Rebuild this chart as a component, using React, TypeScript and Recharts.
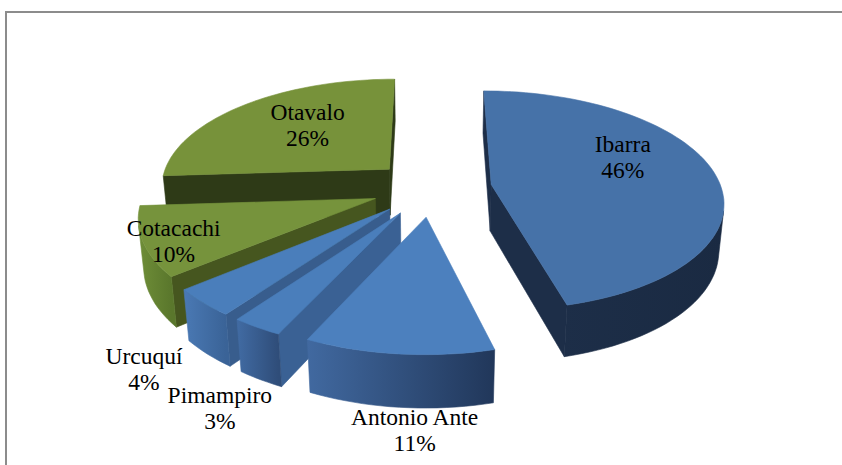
import React from 'react';
import { PieChart, Pie } from 'recharts';

// cantones y porcentaje de cada uno
const cantones = ['Ibarra', 'Antonio Ante', 'Pimampiro', 'Urcuquí', 'Cotacachi', 'Otavalo'];
const porcentajes = [46, 11, 3, 4, 10, 26];

// colores: tapa, cara de corte, lateral (de izquierda a derecha)
const topColors = ['#4672A8', '#4C80BE', '#4A7EBB', '#4A7EBB', '#76933C', '#77923A'];
const cutColors = ['#1D2E48', '#30507C', '#3A6194', '#385D8D', '#46561F', '#2E3A17'];
const sideFrom = ['#1E304B', '#4169A0', '#416BA3', '#4A79B4', '#6F8E38', '#3A4A1D'];
const sideTo = ['#1A2A42', '#21375A', '#2F4D79', '#3A6397', '#5A772C', '#2E3A17'];

// etiquetas: fraccion del radio sobre el angulo medio + ajuste en px
const labelFrac = [0.57, 1.0, 1.2, 1.2, 0.87, 0.54];
const labelShift = [
  [4, -12],
  [16, 84],
  [-3, 62],
  [-16, 53],
  [-1, 13],
  [0, 0],
];

const data = cantones.map((name, i) => ({ name, value: porcentajes[i] }));
// mismo pastel en sentido contrario: dibuja de atras hacia adelante
const backToFront = [...data].reverse();

const CX = 427;
const CY = 183;
const RADIUS = 230;
const TILT = 0.47;
const COS_T = Math.sqrt(1 - TILT * TILT);
const DIST = 1400;
const DEPTH = 54;
const EXPLODE = 60;
const CAM_Z = -DIST * COS_T;

const FONT = "'Liberation Serif', 'Times New Roman', Times, serif";

const toRad = (d: number) => (d * Math.PI) / 180;

function project(cx: number, cy: number, x: number, z: number, y: number) {
  const v = z * TILT + y * COS_T;
  const w = z * COS_T - y * TILT;
  const s = DIST / (DIST + w);
  return [cx + x * s, cy - v * s];
}

const toPoints = (list: number[][]) => list.map((p) => `${p[0].toFixed(1)},${p[1].toFixed(1)}`).join(' ');

function Slice3D(props: any) {
  const { cx, cy, outerRadius, startAngle, endAngle, midAngle, name } = props;
  const i = cantones.indexOf(name);
  const lo = Math.min(startAngle, endAngle);
  const hi = Math.max(startAngle, endAngle);
  const m = toRad(midAngle);
  const ox = EXPLODE * Math.cos(m);
  const oz = EXPLODE * Math.sin(m);

  const rim = (deg: number, y: number) => {
    const a = toRad(deg);
    return project(cx, cy, ox + outerRadius * Math.cos(a), oz + outerRadius * Math.sin(a), y);
  };
  const apex = (y: number) => project(cx, cy, ox, oz, y);

  const steps = Math.max(2, Math.ceil((hi - lo) / 2));
  const angles = Array.from({ length: steps + 1 }, (_, k) => lo + ((hi - lo) * k) / steps);

  const facing = (deg: number) => {
    const a = toRad(deg);
    const px = ox + outerRadius * Math.cos(a);
    const pz = oz + outerRadius * Math.sin(a);
    return Math.cos(a) * (0 - px) + Math.sin(a) * (CAM_Z - pz) > 0;
  };

  // tramos visibles del lateral curvo
  const runs: number[][] = [];
  let cur: number[] | null = null;
  for (let k = 0; k < steps; k++) {
    if (facing((angles[k] + angles[k + 1]) / 2)) {
      if (!cur) {
        cur = [angles[k]];
        runs.push(cur);
      }
      cur.push(angles[k + 1]);
    } else {
      cur = null;
    }
  }

  const cutVisible = (deg: number, sign: number) => {
    const a = toRad(deg);
    const nx = -sign * Math.sin(a);
    const nz = sign * Math.cos(a);
    return nx * (0 - ox) + nz * (CAM_Z - oz) > 0;
  };

  const cuts = [
    { deg: lo, sign: -1 },
    { deg: hi, sign: 1 },
  ].filter((c) => cutVisible(c.deg, c.sign));

  const topPts = [apex(0), ...angles.map((a) => rim(a, 0))];
  const xs = angles.map((a) => rim(a, 0)[0]);
  const gradId = `lado-${i}`;

  return (
    <g>
      <defs>
        <linearGradient id={gradId} gradientUnits="userSpaceOnUse" x1={Math.min(...xs)} y1={0} x2={Math.max(...xs)} y2={0}>
          <stop offset="0%" stopColor={sideFrom[i]} />
          <stop offset="100%" stopColor={sideTo[i]} />
        </linearGradient>
      </defs>
      {cuts.map((c) => (
        <polygon
          key={`c${c.deg}`}
          points={toPoints([apex(0), rim(c.deg, 0), rim(c.deg, -DEPTH), apex(-DEPTH)])}
          fill={cutColors[i]}
          stroke={cutColors[i]}
          strokeWidth={0.6}
        />
      ))}
      {runs.map((run, k) => (
        <polygon
          key={`r${k}`}
          points={toPoints([...run.map((a) => rim(a, 0)), ...[...run].reverse().map((a) => rim(a, -DEPTH))])}
          fill={`url(#${gradId})`}
          stroke={`url(#${gradId})`}
          strokeWidth={0.6}
        />
      ))}
      <polygon points={toPoints(topPts)} fill={topColors[i]} stroke={topColors[i]} strokeWidth={0.6} />
    </g>
  );
}

function Etiqueta(props: any) {
  const { cx, cy, outerRadius, midAngle, percent, name } = props;
  const i = cantones.indexOf(name);
  const m = toRad(midAngle);
  const dist = EXPLODE + labelFrac[i] * outerRadius;
  const [x, y] = project(cx, cy, dist * Math.cos(m), dist * Math.sin(m), 0);
  const tx = x + labelShift[i][0];
  const ty = y + labelShift[i][1];
  return (
    <text textAnchor="middle" style={{ fontFamily: FONT, fontSize: 23.5 }} fill="#000">
      <tspan x={tx} y={ty - 13}>{name}</tspan>
      <tspan x={tx} y={ty + 13}>{`${Math.round(percent * 100)}%`}</tspan>
    </text>
  );
}

export default function App() {
  return (
    <div style={{ position: 'absolute', left: 0, top: 0, width: 842, height: 465, overflow: 'hidden', background: '#fff' }}>
      <div
        style={{
          position: 'absolute',
          left: 5,
          top: 11,
          width: 900,
          height: 520,
          border: '2px solid #8c8c8c',
        }}
      />
      <div style={{ position: 'absolute', left: 0, top: 0 }}>
        <PieChart width={842} height={465}>
          <Pie
            data={backToFront}
            dataKey="value"
            nameKey="name"
            cx={CX}
            cy={CY}
            outerRadius={RADIUS}
            startAngle={90}
            endAngle={450}
            fill="none"
            stroke="none"
            label={Slice3D}
            labelLine={false}
            isAnimationActive={false}
          />
          <Pie
            data={data}
            dataKey="value"
            nameKey="name"
            cx={CX}
            cy={CY}
            outerRadius={RADIUS}
            startAngle={90}
            endAngle={-270}
            fill="none"
            stroke="none"
            label={Etiqueta}
            labelLine={false}
            isAnimationActive={false}
          />
        </PieChart>
      </div>
    </div>
  );
}
